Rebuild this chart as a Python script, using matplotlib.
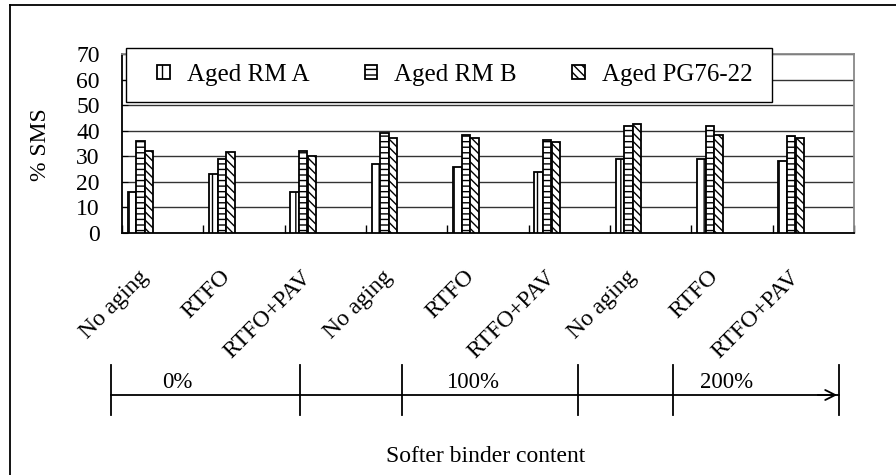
import numpy as np
import matplotlib
matplotlib.use("Agg")
import matplotlib.pyplot as plt
from matplotlib.lines import Line2D
from matplotlib.patches import Rectangle, FancyArrowPatch

plt.rcParams['font.family'] = ['Liberation Serif', 'DejaVu Serif']
plt.rcParams['hatch.linewidth'] = 1.0

categories = ["No aging", "RTFO", "RTFO+PAV"] * 3
contents = ["0%", "100%", "200%"]
series_names = ["Aged RM A", "Aged RM B", "Aged PG76-22"]
rm_a = [16, 23, 16, 27, 26, 24, 29, 29, 28]
rm_b = [36, 29, 32, 39, 38.5, 36.5, 42, 42, 38]
pg76 = [32, 31.5, 30, 37, 37, 35.5, 42.5, 38.5, 37]
yticks = [0, 10, 20, 30, 40, 50, 60, 70]

W, H = 896, 475
fig = plt.figure(figsize=(W / 100, H / 100), dpi=100)
ax = fig.add_axes([122 / W, 1 - 233 / H, (854 - 122) / W, (233 - 54) / H])


def fx(px):
    return px / W


def fy(py):
    return 1 - py / H


n = len(categories)
x = np.arange(n)
bw = 0.105
offsets = [0.07, 0.175, 0.282]
hatches = ['||', '---', '\\\\\\\\']
for vals, off, h, name in zip([rm_a, rm_b, pg76], offsets, hatches, series_names):
    ax.bar(x + off, vals, width=bw, align='edge', facecolor='white',
           edgecolor='black', linewidth=1.3, hatch=h, label=name, zorder=3)

ax.set_xlim(0, n)
ax.set_ylim(0, 70)
ax.set_yticks(yticks)
ax.yaxis.grid(True, color='#333333', linewidth=1.0, zorder=0)
ax.set_axisbelow(True)
for s in ['left', 'bottom']:
    ax.spines[s].set_color('black')
    ax.spines[s].set_linewidth(1.3)
for s in ['top', 'right']:
    ax.spines[s].set_color('#888888')
    ax.spines[s].set_linewidth(1.3)

ax.tick_params(axis='y', direction='in', length=4, pad=16, labelsize=17)
ax.set_xticks(x + 0.5 - 0.12)
ax.set_xticklabels(categories, rotation=45, ha='right', fontsize=17)
ax.tick_params(axis='x', which='major', length=0, pad=24)
ax.set_xticks(np.arange(n + 1), minor=True)
ax.tick_params(axis='x', which='minor', direction='in', length=6, width=1)

# legend frame and legend
fig.add_artist(Rectangle((fx(126), fy(102)), fx(772) - fx(126), fy(48) - fy(102),
                         transform=fig.transFigure, facecolor='white',
                         edgecolor='black', linewidth=1.0, zorder=4))
handles, labels = ax.get_legend_handles_labels()
leg = fig.legend(handles, labels, loc='center left', bbox_to_anchor=(fx(157), fy(75)),
                 ncol=3, fontsize=18, frameon=False, handlelength=0.5,
                 handleheight=0.5, handletextpad=0.7, columnspacing=2.2,
                 borderpad=0, borderaxespad=0)
leg.set_zorder(5)

fig.text(40 / W, 1 - 145 / H, "% SMS", rotation=90, ha='center', va='center', fontsize=17)

# bottom grouping axis
ya = fy(395)
fig.add_artist(Line2D([fx(111), fx(839)], [ya, ya], color='black', linewidth=1.3))
fig.add_artist(FancyArrowPatch(
    (fx(815), ya), (fx(840), ya), transform=fig.transFigure,
    arrowstyle='->', mutation_scale=18, color='black', linewidth=1.3))
for px in [111, 300, 402, 578, 673, 839]:
    fig.add_artist(Line2D([fx(px), fx(px)], [fy(365), fy(415)], color='black', linewidth=1.3))
for label, px in zip(contents, [177, 473, 727]):
    fig.text(fx(px), fy(383), label, ha='center', va='center', fontsize=16.5)
fig.text(fx(486), fy(457), "Softer binder content", ha='center', va='center', fontsize=17)

# outer frame (left & top visible)
fig.add_artist(Line2D([fx(10), fx(10)], [fy(5), 0], color='black', linewidth=1.3))
fig.add_artist(Line2D([fx(10), 1], [fy(5), fy(5)], color='black', linewidth=1.3))

fig.savefig("out.png", dpi=100)
